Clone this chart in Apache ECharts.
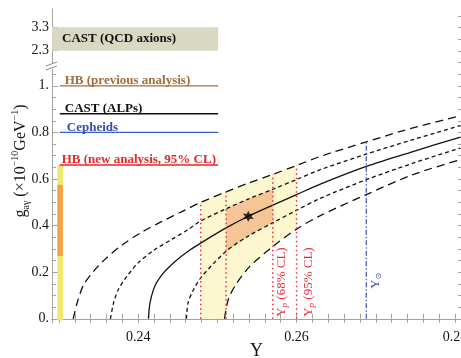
<!DOCTYPE html>
<html><head><meta charset="utf-8">
<script src="https://cdn.jsdelivr.net/npm/echarts@6/dist/echarts.min.js"></script>
<style>html,body{margin:0;padding:0;background:#fff}#c{width:461px;height:358px}</style>
</head><body><div id="c"></div>
<script>
// ---------------- data ----------------
const curveLongLeft = [[0.2318,0],[0.2323,0.069],[0.2331,0.145],[0.2344,0.205],[0.2358,0.255],[0.2379,0.315],[0.2405,0.373],[0.2430,0.418],[0.2457,0.463],[0.2479,0.500],[0.2511,0.545],[0.2539,0.582],[0.2570,0.620],[0.2600,0.658],[0.2630,0.697],[0.2688,0.759],[0.2735,0.808],[0.2807,0.872]];
const curveShortLeft = [[0.2365,0],[0.2369,0.069],[0.2375,0.126],[0.2386,0.183],[0.2400,0.240],[0.2421,0.297],[0.2443,0.342],[0.2463,0.383],[0.2479,0.420],[0.2511,0.472],[0.2539,0.514],[0.2570,0.556],[0.2600,0.598],[0.2630,0.640],[0.2688,0.707],[0.2747,0.769],[0.2807,0.829]];
const curveCentral = [[0.2413,0],[0.2415,0.069],[0.2421,0.140],[0.2432,0.197],[0.2447,0.247],[0.2463,0.290],[0.2479,0.325],[0.2511,0.390],[0.2539,0.440],[0.2570,0.488],[0.2600,0.533],[0.2630,0.578],[0.2688,0.654],[0.2747,0.718],[0.2807,0.780]];
const curveShortRight = [[0.2461,0],[0.2463,0.069],[0.2470,0.126],[0.2480,0.180],[0.2511,0.290],[0.2539,0.355],[0.2570,0.412],[0.2600,0.466],[0.2630,0.517],[0.2688,0.597],[0.2747,0.668],[0.2807,0.733]];
const curveLongRight = [[0.2509,0],[0.2514,0.085],[0.2524,0.150],[0.2541,0.225],[0.2570,0.310],[0.2600,0.385],[0.2630,0.443],[0.2688,0.533],[0.2747,0.619],[0.2807,0.683]];

const yp95 = [0.2479, 0.2600];      // Y_p 95% CL
const yp68 = [0.2511, 0.2570];      // Y_p 68% CL
const ySun = 0.2688;
const bestFit = [0.2539, 0.44];

const limitNames = ['HB (previous analysis)', 'CAST (ALPs)', 'Cepheids', 'HB (new analysis, 95% CL)'];
const limitValues = [1.0, 0.88, 0.80, 0.66];
const limitYRange = [0.2301, 0.2501];

const castQcdName = 'CAST (QCD axions)';
const castQcdG = [2.3, 3.3];
const castQcdYEnd = 0.2501;

const hbBarY = [0.2298, 0.2305];
const hbBar95 = [-0.006, 0.66];
const hbBar68 = [0.27, 0.575];

const xTickLabels = [0.24, 0.26, 0.28];
const yTickLabels = [0, 0.2, 0.4, 0.6, 0.8, 1.0];
const yTopTickLabels = [2.3, 3.3];
const xAxisTitle = 'Y';

// ---------------- layout / style ----------------
const X_MIN = 0.22912, X_MAX = 0.28076;
const G_MIN = -0.018, G_MAX_LOW = 1.0807, G_MAX_ALL = 1.3296;
const TOP_MIN = 1.603, TOP_MAX = 4.082;
const SERIF = '"Liberation Serif","Times New Roman",serif';
const FRAME = '#a3a3a3';
const LBL = '#141414';

const xTicks = []; for (let i = 0; i <= 25; i++) xTicks.push(+(0.230 + 0.002 * i).toFixed(3));
const yMinor = []; for (let i = 1; i <= 21; i++) { if (i % 4) yMinor.push(+(0.05 * i).toFixed(2)); }
const yRight = []; for (let i = 0; i <= 26; i++) yRight.push(+(0.05 * i).toFixed(2));

function lookup(curve, x) { const p = curve.find(q => Math.abs(q[0] - x) < 1e-9); return p ? p[1] : 0; }
function inRange(curve, a, b) { return curve.filter(p => p[0] >= a - 1e-9 && p[0] <= b + 1e-9); }

const yellowPoly = inRange(curveLongLeft, yp95[0], yp95[1])
  .concat(inRange([[yp95[0], 0]].concat(curveLongRight), yp95[0], yp95[1]).reverse());
const orangePoly = inRange(curveShortLeft, yp68[0], yp68[1])
  .concat(inRange(curveShortRight, yp68[0], yp68[1]).reverse());

function polySeries(points, color, z) {
  return { type: 'custom', coordinateSystem: 'cartesian2d', xAxisIndex: 1, yAxisIndex: 1, silent: true, z: z,
    data: [0],
    renderItem: (params, api) => ({ type: 'polygon', shape: { points: points.map(p => api.coord(p)) }, style: { fill: color } }) };
}
function rectSeries(grid, xr, yr, color, z) {
  return { type: 'custom', coordinateSystem: 'cartesian2d', xAxisIndex: grid, yAxisIndex: grid, silent: true, z: z,
    data: [[xr[0], yr[0], xr[1], yr[1]]],
    renderItem: (params, api) => {
      const a = api.coord([api.value(0), api.value(3)]);
      const b = api.coord([api.value(2), api.value(1)]);
      return { type: 'rect', shape: { x: a[0], y: a[1], width: b[0] - a[0], height: b[1] - a[1] }, style: { fill: color } };
    } };
}
function lineSeries(data, color, width, type, z, smooth) {
  return { type: 'line', xAxisIndex: 1, yAxisIndex: 1, data: data, symbol: 'none', smooth: smooth || false, silent: true, z: z,
    lineStyle: { color: color, width: width, type: type } };
}
function textSeries(grid, items) {
  return { type: 'custom', coordinateSystem: 'cartesian2d', xAxisIndex: grid, yAxisIndex: grid, silent: true, z: 20,
    data: items.map(it => [it.x, it.y]),
    renderItem: (params, api) => {
      const it = items[params.dataIndex];
      const p = api.coord([api.value(0), api.value(1)]);
      return { type: 'text', x: p[0] + (it.dx || 0), y: p[1] + (it.dy || 0), rotation: it.rot || 0,
        style: Object.assign({ text: it.text }, it.style) };
    } };
}

const limitColors = ['#a56c37', '#111111', '#3d5fc4', '#e8262c'];
const limitTextColors = ['#a56c37', '#111111', '#2f50b0', '#e8262c'];
const limitDx = [5, 5, 7, 2];

const series = [];
series.push(rectSeries(0, [X_MIN, castQcdYEnd], castQcdG, '#d9d9c3', 1));
series.push(polySeries(yellowPoly, '#fcf7cf', 1));
series.push(polySeries(orangePoly, '#f5c596', 2));
series.push(rectSeries(1, hbBarY, hbBar95, '#f1e96c', 2));
series.push(rectSeries(1, hbBarY, hbBar68, '#f2a34c', 3));
limitValues.forEach((v, i) => series.push(lineSeries([[limitYRange[0], v], [limitYRange[1], v]], limitColors[i], 1.3, 'solid', 4)));
series.push(lineSeries(curveLongLeft, '#111', 1.3, [8, 5], 5, 0.3));
series.push(lineSeries(curveShortLeft, '#111', 1.3, [4, 3], 5, 0.3));
series.push(lineSeries(curveCentral, '#111', 1.3, 'solid', 5, 0.3));
series.push(lineSeries(curveShortRight, '#111', 1.3, [4, 3], 5, 0.3));
series.push(lineSeries(curveLongRight, '#111', 1.3, [8, 5], 5, 0.3));
yp95.concat(yp68).forEach(x => series.push(lineSeries([[x, 0], [x, lookup(curveLongLeft, x)]], '#e8303a', 1.5, [1.5, 3], 6)));
series.push(lineSeries([[ySun, 0], [ySun, lookup(curveLongLeft, ySun)]], '#3552b4', 1.2, [5, 2, 1.5, 2], 6));
series.push({ type: 'scatter', xAxisIndex: 1, yAxisIndex: 1, data: [bestFit], z: 8, silent: true,
  symbol: 'path://M0,-100 L25,-43 L87,-50 L50,0 L87,50 L25,43 L0,100 L-25,43 L-87,50 L-50,0 L-87,-50 L-25,-43 Z',
  symbolSize: 11, itemStyle: { color: '#000' } });

// labels of the limits
series.push(textSeries(1, limitNames.map((n, i) => ({
  x: limitYRange[0], y: limitValues[i], dx: limitDx[i], dy: -5, text: n,
  style: { fill: limitTextColors[i], fontFamily: SERIF, fontWeight: 'bold', fontSize: 13, align: 'left', verticalAlign: 'middle' }
}))));
series.push(textSeries(0, [{ x: X_MIN, y: (castQcdG[0] + castQcdG[1]) / 2, dx: 10, dy: 0, text: castQcdName,
  style: { fill: '#111', fontFamily: SERIF, fontWeight: 'bold', fontSize: 13, align: 'left', verticalAlign: 'middle' } }]));

const ypRich = { y: { fontFamily: SERIF, fontSize: 13, fill: '#e8303a', lineHeight: 15 },
  p: { fontFamily: SERIF, fontSize: 9, fontStyle: 'italic', fill: '#e8303a', verticalAlign: 'bottom' },
  t: { fontFamily: SERIF, fontSize: 13, fill: '#e8303a', lineHeight: 15 } };
series.push(textSeries(1, [
  { x: yp68[1], y: 0, dx: 1, dy: -2, rot: Math.PI / 2, text: '{y|Y}{p|p}{t| (68% CL)}', style: { rich: ypRich, align: 'left', verticalAlign: 'top' } },
  { x: yp95[1], y: 0, dx: 5, dy: -2, rot: Math.PI / 2, text: '{y|Y}{p|p}{t| (95% CL)}', style: { rich: ypRich, align: 'left', verticalAlign: 'top' } },
  { x: ySun, y: 0, dx: 1.5, dy: -30, rot: Math.PI / 2, text: '{y|Y}{s|⊙}', style: { align: 'left', verticalAlign: 'top', rich: {
    y: { fontFamily: SERIF, fontSize: 13, fill: '#3552b4', lineHeight: 15 },
    s: { fontFamily: '"DejaVu Serif",serif', fontSize: 8, fill: '#3552b4', verticalAlign: 'bottom' } } } },
  { x: (X_MIN + X_MAX) / 2, y: G_MIN, dx: 0, dy: 19, text: xAxisTitle,
    style: { fill: LBL, fontFamily: SERIF, fontSize: 18, align: 'center', verticalAlign: 'top' } }
]));

const axisLabelBase = { fontFamily: SERIF, fontSize: 14, color: LBL };

const option = {
  animation: false,
  backgroundColor: '#fff',
  grid: [
    { left: 52, right: 0, top: 9, height: 58, containLabel: false, outerBoundsMode: 'none' },
    { left: 52, right: 0, top: 67, bottom: 35, containLabel: false, outerBoundsMode: 'none' },
    { left: 52, right: 0, top: 9, bottom: 35, containLabel: false, outerBoundsMode: 'none' }
  ],
  xAxis: [
    { gridIndex: 0, type: 'value', min: X_MIN, max: X_MAX, show: false },
    { gridIndex: 1, type: 'value', min: X_MIN, max: X_MAX, position: 'bottom',
      axisLine: { show: true, lineStyle: { color: FRAME, width: 1 } },
      axisTick: { show: true, inside: true, length: 5, customValues: xTicks, lineStyle: { color: FRAME } },
      axisLabel: Object.assign({ show: true, customValues: xTickLabels, margin: 7, formatter: v => v.toFixed(2) }, axisLabelBase),
      splitLine: { show: false } },
    { gridIndex: 2, type: 'value', min: X_MIN, max: X_MAX, position: 'top',
      axisLine: { show: true, lineStyle: { color: FRAME, width: 1 } },
      axisTick: { show: true, inside: true, length: 4, customValues: xTicks, lineStyle: { color: FRAME } },
      axisLabel: { show: false }, splitLine: { show: false } }
  ],
  yAxis: [
    { gridIndex: 0, type: 'value', min: TOP_MIN, max: TOP_MAX, position: 'left',
      axisLine: { show: true, lineStyle: { color: FRAME, width: 1 } },
      axisTick: { show: true, inside: true, length: 6, customValues: yTopTickLabels, lineStyle: { color: FRAME } },
      axisLabel: Object.assign({ show: true, customValues: yTopTickLabels, margin: 3, formatter: v => v.toFixed(1) }, axisLabelBase),
      splitLine: { show: false } },
    { gridIndex: 1, type: 'value', min: G_MIN, max: G_MAX_LOW, position: 'left',
      axisLine: { show: true, lineStyle: { color: FRAME, width: 1 } },
      axisTick: { show: true, inside: true, length: 6, customValues: yTickLabels, lineStyle: { color: FRAME } },
      axisLabel: Object.assign({ show: true, customValues: yTickLabels, margin: 3,
        formatter: v => (Math.abs(v) < 1e-9 ? '0.' : (Math.abs(v - 1) < 1e-9 ? '1.' : v.toFixed(1))) }, axisLabelBase),
      splitLine: { show: false } },
    { gridIndex: 1, type: 'value', min: G_MIN, max: G_MAX_LOW, position: 'left',
      axisLine: { show: false },
      axisTick: { show: true, inside: true, length: 4, customValues: yMinor, lineStyle: { color: FRAME } },
      axisLabel: { show: false }, splitLine: { show: false } },
    { gridIndex: 2, type: 'value', min: G_MIN, max: G_MAX_ALL, position: 'right',
      axisLine: { show: true, lineStyle: { color: FRAME, width: 1 } },
      axisTick: { show: true, inside: true, length: 3, customValues: yRight, lineStyle: { color: FRAME } },
      axisLabel: { show: false }, splitLine: { show: false } }
  ],
  graphic: [
    { type: 'rect', shape: { x: 47, y: 63, width: 10, height: 6 }, style: { fill: '#fff' }, z: 50 },
    { type: 'line', shape: { x1: 46, y1: 66, x2: 57, y2: 62 }, style: { stroke: '#888', lineWidth: 1 }, z: 51 },
    { type: 'line', shape: { x1: 46, y1: 70, x2: 57, y2: 66 }, style: { stroke: '#888', lineWidth: 1 }, z: 51 },
    { type: 'text', x: 21, y: 161, rotation: Math.PI / 2, z: 51,
      style: { text: '{m|g}{sub|aγ}{m| (×10}{sup|−10}{m|GeV}{sup|−1}{m|)}', align: 'center', verticalAlign: 'middle',
        rich: {
          m: { fontFamily: SERIF, fontSize: 16, fill: LBL, lineHeight: 21 },
          sub: { fontFamily: SERIF, fontSize: 10, fill: LBL, verticalAlign: 'bottom' },
          sup: { fontFamily: SERIF, fontSize: 10, fill: LBL, verticalAlign: 'top' }
        } } }
  ],
  series: series
};
const chart = echarts.init(document.getElementById('c'), null, { renderer: 'canvas' });
chart.setOption(option);
</script></body></html>
